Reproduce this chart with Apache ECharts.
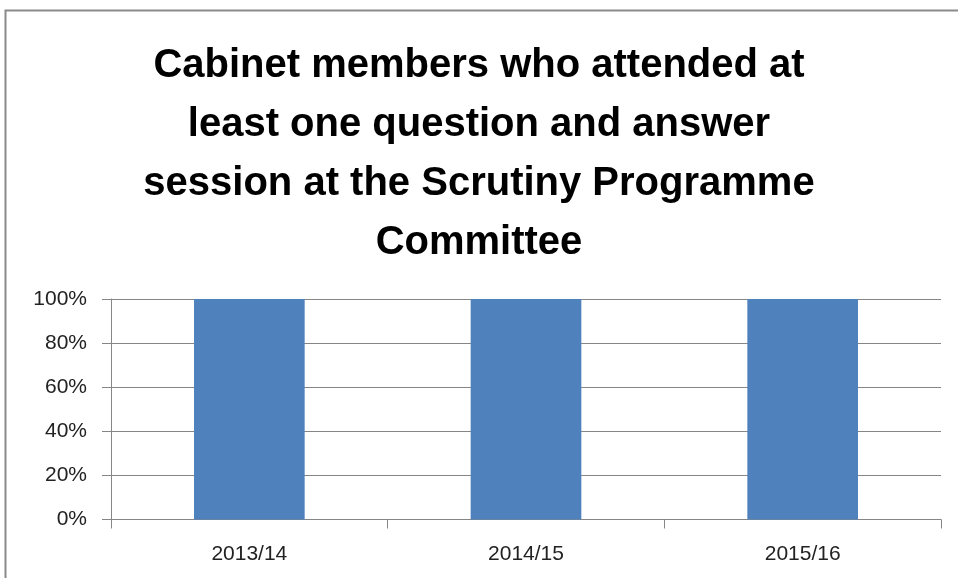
<!DOCTYPE html>
<html><head><meta charset="utf-8">
<script src="https://cdn.jsdelivr.net/npm/echarts@6/dist/echarts.min.js"></script>
<style>html,body{margin:0;padding:0;background:#fff}#c{width:958px;height:578px}</style>
</head><body><div id="c"></div>
<script>
const titleText = "Cabinet members who attended at\nleast one question and answer\nsession at the Scrutiny Programme\nCommittee";
const categories = ["2013/14", "2014/15", "2015/16"];
const values = [1, 1, 1];
const yTicks = [0, 0.2, 0.4, 0.6, 0.8, 1];

const chart = echarts.init(document.getElementById('c'), null, {renderer: 'canvas'});
chart.setOption({
  animation: false,
  backgroundColor: '#fff',
  graphic: [{
    type: 'rect', shape: {x: 5.5, y: 10.5, width: 1000, height: 1000},
    style: {fill: 'none', stroke: '#8a8a8a', lineWidth: 2}, silent: true, z: -1
  }],
  title: {
    text: titleText, left: 'center', top: 31,
    textStyle: {fontFamily: 'Liberation Sans', fontWeight: 'bold', fontSize: 40, lineHeight: 59, color: '#000'}
  },
  grid: {left: 111, right: 17, top: 299, bottom: 58.5, containLabel: false},
  xAxis: {
    type: 'category', data: categories,
    axisLine: {lineStyle: {color: '#868686', width: 1}},
    axisTick: {show: true, length: 9, lineStyle: {color: '#868686'}},
    axisLabel: {fontFamily: 'Liberation Sans', fontSize: 21, color: '#222', margin: 24}
  },
  yAxis: {
    type: 'value', min: 0, max: 1, interval: 0.2,
    axisLine: {show: true, lineStyle: {color: '#868686', width: 1}},
    axisTick: {show: true, length: 9, lineStyle: {color: '#868686'}},
    splitLine: {lineStyle: {color: '#868686', width: 1}},
    axisLabel: {fontFamily: 'Liberation Sans', fontSize: 21, color: '#222', margin: 24,
      formatter: v => Math.round(v * 100) + '%'}
  },
  series: [{
    type: 'bar', data: values, barCategoryGap: '60%',
    itemStyle: {color: '#4f81bd'}
  }]
});
</script></body></html>
